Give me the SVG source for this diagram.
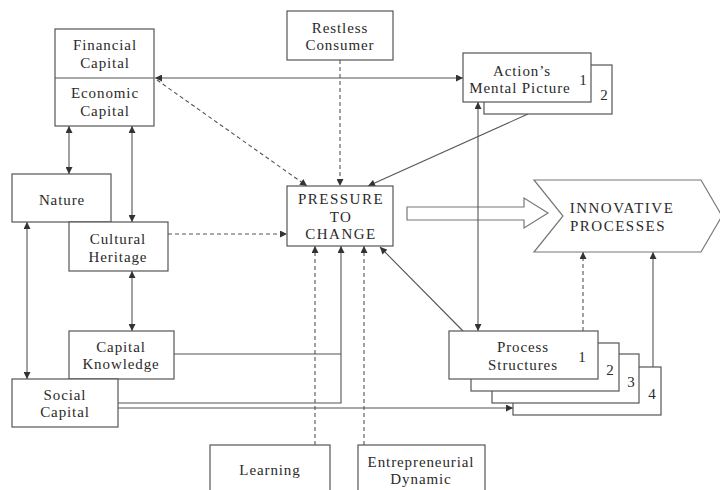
<svg xmlns="http://www.w3.org/2000/svg" width="720" height="490" viewBox="0 0 720 490">
<style>
.box{fill:#fff;stroke:#555;stroke-width:1.2}
text{font-family:'Liberation Serif','DejaVu Serif',serif;font-size:15px;fill:#2a2a2a;text-anchor:middle;letter-spacing:0.9px}
.cap{letter-spacing:1.5px}
.n{letter-spacing:0}
.ln{fill:none;stroke:#555;stroke-width:1.1}
.d{stroke-dasharray:4,3}
.ae{marker-end:url(#ah)}
.ab{marker-start:url(#ah);marker-end:url(#ah)}
</style>
<defs>
<marker id="ah" viewBox="0 0 10 10" refX="10" refY="5" markerWidth="8" markerHeight="7" markerUnits="userSpaceOnUse" orient="auto-start-reverse">
<path d="M0,0 L10,5 L0,10 z" fill="#333"/>
</marker>
</defs>
<rect width="720" height="490" fill="#fff"/>

<g id="connectors">
<line class="ln ab" x1="155" y1="78" x2="463" y2="78"/>
<line class="ln d ae" x1="157" y1="80" x2="307" y2="186"/>
<line class="ln d ae" x1="340" y1="60" x2="340" y2="186"/>
<line class="ln ae" x1="528" y1="114" x2="368" y2="186"/>
<line class="ln ab" x1="69" y1="126" x2="69" y2="174"/>
<line class="ln ab" x1="132" y1="126" x2="132" y2="222"/>
<line class="ln ab" x1="27" y1="222" x2="27" y2="379"/>
<line class="ln ab" x1="132" y1="271" x2="132" y2="331"/>
<line class="ln d ae" x1="168" y1="234" x2="287" y2="234"/>
<path class="ln ae" d="M118,403 H341 V246"/>
<path class="ln" d="M174,354 H341"/>
<line class="ln ae" x1="118" y1="408" x2="513" y2="408"/>
<line class="ln d ae" x1="315" y1="445" x2="315" y2="246"/>
<line class="ln d ae" x1="364" y1="445" x2="364" y2="246"/>
<line class="ln ae" x1="463" y1="331" x2="380" y2="247"/>
<line class="ln d ae" x1="583" y1="331" x2="583" y2="252"/>
<line class="ln ae" x1="653" y1="367" x2="653" y2="252"/>
<polygon points="407,207 524,207 524,198 548,213 524,228 524,220 407,220" fill="#fff" stroke="#777" stroke-width="1.2"/>
<line class="ln ab" x1="478" y1="102" x2="478" y2="331"/>
<line class="ln ae" x1="688" y1="205" x2="710" y2="197"/>
<line class="ln ae" x1="688" y1="215" x2="711" y2="215"/>
<line class="ln ae" x1="688" y1="222" x2="710" y2="232"/>
</g>

<g id="financial-economic">
<rect class="box" x="55" y="29" width="99" height="97"/>
<line class="ln" x1="55" y1="78" x2="154" y2="78"/>
<text x="105" y="50">Financial</text>
<text x="105" y="68">Capital</text>
<text x="105" y="98">Economic</text>
<text x="105" y="116">Capital</text>
</g>

<g id="restless-consumer">
<rect class="box" x="287" y="11" width="106" height="49"/>
<text x="340" y="33">Restless</text>
<text x="340" y="50">Consumer</text>
</g>

<g id="action-mental-picture">
<rect class="box" x="484" y="65" width="128" height="49"/>
<rect class="box" x="463" y="53" width="128" height="49"/>
<text x="522" y="76">Action’s</text>
<text x="520" y="93">Mental Picture</text>
<text class="n" x="583" y="85">1</text>
<text class="n" x="604" y="100">2</text>
</g>

<g id="pressure-to-change">
<rect class="box" x="287" y="186" width="106" height="60"/>
<text class="cap" x="341" y="204">PRESSURE</text>
<text class="cap" x="341" y="222">TO</text>
<text class="cap" x="341" y="239">CHANGE</text>
</g>

<g id="innovative-processes">
<polygon points="534,180 701,180 722,216 701,252 534,252 563,216" fill="#fff" stroke="#777" stroke-width="1.2"/>
<text class="cap" x="622" y="213">INNOVATIVE</text>
<text class="cap" x="618" y="231">PROCESSES</text>
</g>

<g id="nature">
<rect class="box" x="12" y="174" width="99" height="48"/>
<text x="62" y="205">Nature</text>
</g>

<g id="cultural-heritage">
<rect class="box" x="69" y="222" width="99" height="49"/>
<text x="118" y="244">Cultural</text>
<text x="118" y="262">Heritage</text>
</g>

<g id="capital-knowledge">
<rect class="box" x="69" y="331" width="105" height="48"/>
<text x="121" y="352">Capital</text>
<text x="121" y="369">Knowledge</text>
</g>

<g id="social-capital">
<rect class="box" x="12" y="379" width="106" height="48"/>
<text x="65" y="400">Social</text>
<text x="65" y="417">Capital</text>
</g>

<g id="process-structures">
<rect class="box" x="513" y="367" width="148" height="48"/>
<rect class="box" x="492" y="354" width="147" height="49"/>
<rect class="box" x="471" y="343" width="148" height="48"/>
<rect class="box" x="449" y="331" width="149" height="48"/>
<text x="523" y="352">Process</text>
<text x="523" y="370">Structures</text>
<text class="n" x="582" y="362">1</text>
<text class="n" x="610" y="375">2</text>
<text class="n" x="631" y="387">3</text>
<text class="n" x="652" y="399">4</text>
</g>

<g id="learning">
<rect class="box" x="210" y="445" width="120" height="55"/>
<text x="270" y="475">Learning</text>
</g>

<g id="entrepreneurial-dynamic">
<rect class="box" x="358" y="445" width="127" height="55"/>
<text x="421" y="467">Entrepreneurial</text>
<text x="421" y="484">Dynamic</text>
</g>
</svg>
